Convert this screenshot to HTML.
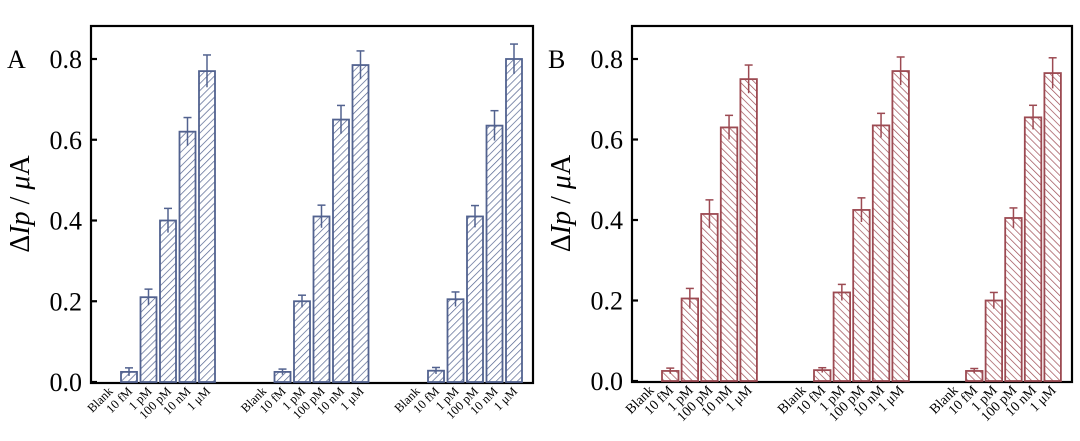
<!DOCTYPE html>
<html><head><meta charset="utf-8"><style>
body{margin:0;background:#fff;width:1080px;height:436px;overflow:hidden}
svg{font-family:"Liberation Serif",serif}
</style></head><body>
<svg id="c" width="1080" height="436" xmlns="http://www.w3.org/2000/svg">
<defs>
<pattern id="hA" width="5" height="5" patternUnits="userSpaceOnUse" patternTransform="rotate(45)"><line x1="0" y1="0" x2="0" y2="5" stroke="#52628f" stroke-width="1.4"/></pattern>
<pattern id="hB" width="5" height="5" patternUnits="userSpaceOnUse" patternTransform="rotate(-45)"><line x1="0" y1="0" x2="0" y2="5" stroke="#9c4a52" stroke-width="1.4"/></pattern>
</defs>
</svg>
<script>
const categories=["Blank","10 fM","1 pM","100 pM","10 nM","1 μM"];
const yTicks=[0,0.2,0.4,0.6,0.8];
const yTickLabels=["0.0","0.2","0.4","0.6","0.8"];
const seriesA1=[0,0.025,0.21,0.40,0.62,0.77];
const seriesA2=[0,0.025,0.20,0.41,0.65,0.785];
const seriesA3=[0,0.028,0.205,0.41,0.635,0.80];
const errA1=[0,0.01,0.02,0.03,0.035,0.04];
const errA2=[0,0.007,0.015,0.028,0.035,0.035];
const errA3=[0,0.008,0.018,0.027,0.037,0.037];
const seriesB1=[0,0.025,0.205,0.415,0.63,0.75];
const seriesB2=[0,0.027,0.22,0.425,0.635,0.77];
const seriesB3=[0,0.025,0.20,0.405,0.655,0.765];
const errB1=[0,0.007,0.025,0.035,0.03,0.035];
const errB2=[0,0.006,0.02,0.03,0.03,0.035];
const errB3=[0,0.006,0.02,0.025,0.03,0.038];
const NS="http://www.w3.org/2000/svg";
const svg=document.getElementById('c');
function mk(t,a,p){const e=document.createElementNS(NS,t);for(const k in a)e.setAttribute(k,a[k]);(p||svg).appendChild(e);return e;}
function panel(o){
  const y=v=>o.y0-(v/0.8)*(o.y0-o.y08);
  const g=mk('g',{});
  
  
  mk('rect',{x:o.left,y:o.top,width:o.right-o.left,height:o.y0-o.top+1,fill:'none',stroke:'#000','stroke-width':2.2},g);
  yTicks.forEach((t,i)=>{
    mk('line',{x1:o.left,x2:o.left+6,y1:y(t),y2:y(t),stroke:'#000','stroke-width':2.2},g);
    const tx=mk('text',{x:o.left-9,y:y(t)+9,'text-anchor':'end','font-size':26},g);
    tx.textContent=yTickLabels[i];
    
    
  });
  const yt=mk('text',{transform:`translate(${o.left-62},${(o.top+o.y0)/2}) rotate(-90)`,'text-anchor':'middle','font-size':28},g);
  yt.innerHTML='Δ<tspan font-style="italic">Ip</tspan> / <tspan font-style="italic">μ</tspan>A';
  
  
  const pl=mk('text',{x:o.left-84,y:y(0.8)+9,'font-size':26},g);
  pl.textContent=o.label;
  
  
  o.series.forEach((s,gi)=>{
    s.forEach((v,i)=>{
      const x=o.g0+gi*o.gs+(i-1)*o.bs;
      if(v>0){
        const r=mk('rect',{x:x,y:y(v),width:o.bw,height:y(0)-y(v),fill:`url(#${o.pat})`,stroke:o.col,'stroke-width':1.8},g);
        
        
        const e=o.errs[gi][i],cx=x+o.bw/2;
        mk('line',{x1:cx,x2:cx,y1:y(v+e),y2:y(v-e),stroke:o.col,'stroke-width':1.5},g);
        mk('line',{x1:cx-4,x2:cx+4,y1:y(v+e),y2:y(v+e),stroke:o.col,'stroke-width':1.5},g);
      }
      const lx=x+o.bw/2+4, ly=o.y0+10;
      const t=mk('text',{transform:`translate(${lx},${ly}) rotate(-45)`,'text-anchor':'end','font-size':o.fs},g);
      t.textContent=categories[i];
      
      
    });
  });
}
panel({name:'panel-a',label:'A',left:91,right:533,top:26,y0:382,y08:59,g0:121,gs:153.5,bs:19.5,bw:16,pat:'hA',col:'#52628f',fs:12.5,
  series:[seriesA1,seriesA2,seriesA3],errs:[errA1,errA2,errA3]});
panel({name:'panel-b',label:'B',left:632,right:1072,top:26,y0:381,y08:59,g0:662,gs:152,bs:19.6,bw:16.5,pat:'hB',col:'#9c4a52',fs:14,
  series:[seriesB1,seriesB2,seriesB3],errs:[errB1,errB2,errB3]});
</script>
</body></html>
